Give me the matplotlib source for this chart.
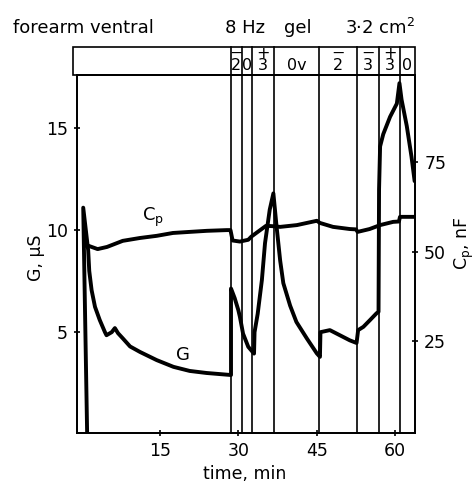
import matplotlib.pyplot as plt
from matplotlib.patches import Rectangle

# G trace (time, min / conductance, uS)
g_t = [-0.8, 1.1, 0.35, 1.3, 1.5, 1.95, 2.6, 3.5, 4.5, 4.8, 5.8, 6.4, 7.0, 7.9, 9.3,
       11.2, 14.4, 17.6, 20.7, 23.9, 28.6, 28.6, 29.3, 30.0, 30.3, 30.9, 31.9, 33.0,
       33.1, 33.7, 34.5, 35.1, 36.0, 36.7, 37.3, 38.0, 38.6, 39.9, 41.1, 43.1, 45.0,
       45.6, 45.7, 47.5, 49.4, 51.3, 52.6, 52.9, 53.9, 55.2, 56.4, 56.8, 56.9, 57.1,
       57.7, 59.0, 60.3, 60.8, 61.2, 62.2, 63.1, 63.7]
g_val = [0.0, 0.0, 11.1, 9.0, 8.0, 7.06, 6.24, 5.6, 5.0, 4.85, 5.0, 5.2, 4.95, 4.7, 4.3,
         4.03, 3.63, 3.3, 3.1, 3.0, 2.9, 7.14, 6.67, 6.08, 5.75, 4.93, 4.28, 3.95,
         5.0, 5.9, 7.55, 9.36, 11.0, 11.8, 10.2, 8.5, 7.4, 6.3, 5.5, 4.69, 3.96,
         3.79, 5.0, 5.1, 4.85, 4.6, 4.47, 5.1, 5.26, 5.6, 5.92, 6.0, 12.0, 14.1,
         14.7, 15.55, 16.2, 17.2, 16.4, 15.1, 13.6, 12.4]

# Cp trace (time, min / capacitance, nF)
cp_t = [1.2, 3.1, 4.9, 7.9, 11.2, 14.4, 17.5, 20.7, 24.0, 27.8, 28.5, 28.9, 30.3, 31.9,
        32.5, 33.8, 35.3, 36.5, 38.0, 41.2, 45.0, 45.6, 48.1, 51.3, 52.5, 52.8, 55.1,
        57.1, 59.6, 60.7, 60.9, 63.7]
cp_val = [51.8, 50.8, 51.4, 53.1, 53.9, 54.5, 55.3, 55.6, 55.9, 56.1, 56.1, 53.2, 52.9, 53.4,
          54.3, 55.7, 57.3, 57.2, 57.0, 57.5, 58.7, 58.1, 57.0, 56.4, 56.3, 55.6, 56.4,
          57.5, 58.4, 58.5, 59.8, 59.8]

# event markers and header cells
events = [28.6, 30.7, 32.6, 36.8, 45.5, 52.7, 56.9, 60.9]
cell_t = [29.6, 31.6, 34.7, 41.1, 49.1, 54.8, 58.9, 62.3]
cell_sign = ["\u2212", "", "+", "", "\u2212", "\u2212", "+", ""]
cell_txt = ["2", "0", "3", "0v", "2", "3", "3", "0"]

fig = plt.figure(figsize=(4.75, 4.84), dpi=100)
ax = fig.add_axes([0.162, 0.105, 0.712, 0.740])
ax2 = ax.twinx()

ax.plot(g_t, g_val, color='black', lw=2.8, solid_joinstyle='round', solid_capstyle='round')
ax2.plot(cp_t, cp_val, color='black', lw=2.8, solid_joinstyle='round', solid_capstyle='round')

ax.set_xlim(-0.85, 63.8)
ax.set_ylim(0.05, 17.6)
ax2.set_ylim(-0.6, 99.4)

for t in events:
    ax.axvline(t, ymin=0, ymax=1.078, color='black', lw=1.2, clip_on=False)

# header box
ax.add_patch(Rectangle((-0.012, 1.0), 1.012, 0.078, transform=ax.transAxes,
                       fill=False, lw=1.2, color='black', clip_on=False))
trans = ax.get_xaxis_transform()
for t, s, d in zip(cell_t, cell_sign, cell_txt):
    txt = s + "\n" + d if s else d
    ax.text(t, 1.006, txt, transform=trans, ha='center', va='bottom',
            fontsize=11.5, linespacing=0.72, multialignment='center')

fig.text(13 / 475, 1 - 28 / 484, "forearm ventral", fontsize=13, va='center')
fig.text(225 / 475, 1 - 28 / 484, "8 Hz", fontsize=13, va='center')
fig.text(284 / 475, 1 - 28 / 484, "gel", fontsize=13, va='center')
fig.text(345 / 475, 1 - 28 / 484, "3\u00b72 cm$^{2}$", fontsize=13, va='center')

ax.text(13.7, 10.6, "C$_\\mathrm{p}$", fontsize=13, ha='center', va='center')
ax.text(19.4, 3.9, "G", fontsize=13, ha='center', va='center')

fs = 12.5
ax.set_xticks([15, 30, 45, 60])
ax.set_yticks([5, 10, 15])
ax2.set_yticks([25, 50, 75])
ax.tick_params(direction='inout', length=5, width=1.2, labelsize=fs, pad=4)
ax2.tick_params(direction='inout', length=5, width=1.2, labelsize=fs, pad=4)

ax.set_xlabel("time, min", fontsize=fs)
ax.set_ylabel("G, \u03bcS", fontsize=fs)
ax2.set_ylabel("C$_\\mathrm{p}$, nF", fontsize=fs)
ax.xaxis.set_label_coords(0.497, -0.089)
ax.yaxis.set_label_coords(-0.095, 0.49)
ax2.yaxis.set_label_coords(1.112, 0.53)

for a in (ax, ax2):
    for sp in a.spines.values():
        sp.set_linewidth(1.3)

fig.savefig("out.png", dpi=100)
